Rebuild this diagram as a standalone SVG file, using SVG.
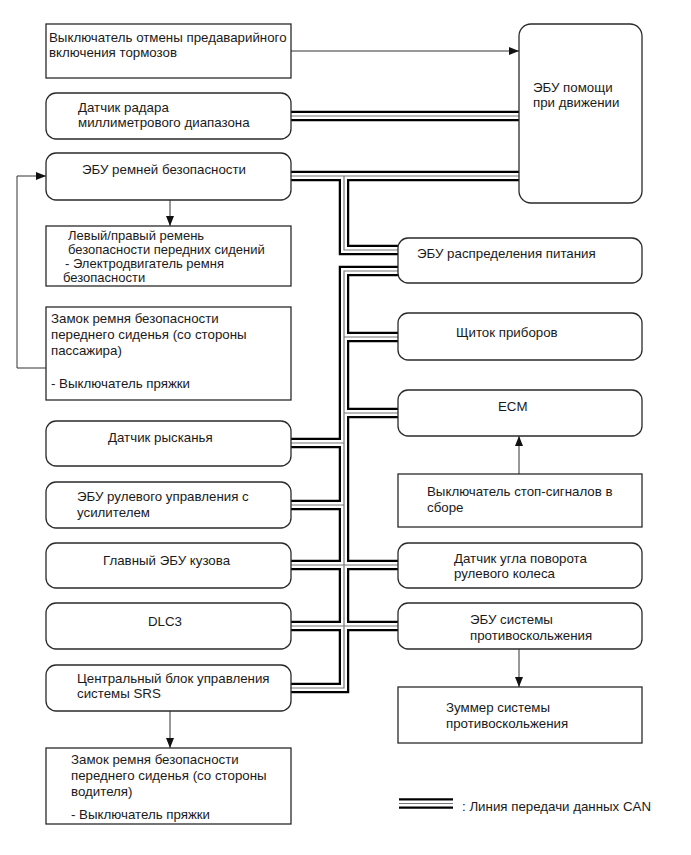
<svg xmlns="http://www.w3.org/2000/svg" xmlns:xlink="http://www.w3.org/1999/xlink" width="691" height="855" viewBox="0 0 691 855">
<style>
  .box { fill: #fff; stroke: #2a2a2a; stroke-width: 1.3; }
  text { font-family: "Liberation Sans", Arial, sans-serif; font-size: 13.3px; fill: #1a1a1a; }
  .tight { font-size: 13px; }
  .busA { fill: none; stroke: #000; stroke-width: 10.5; stroke-linejoin: miter; }
  .busB { fill: none; stroke: #fff; stroke-width: 6; stroke-linejoin: miter; }
  .busC { fill: none; stroke: #777; stroke-width: 1.2; stroke-linejoin: miter; }
  .arrow { fill: none; stroke: #333; stroke-width: 1; marker-end: url(#ah); }
</style>
<defs>
  <marker id="ah" markerWidth="10" markerHeight="8" refX="10" refY="4" orient="auto" markerUnits="userSpaceOnUse">
    <path d="M0,0 L10,4 L0,8 Z" fill="#111"/>
  </marker>
  <path id="bus" d="M291,116 H519 M291,176 H519 M344,176 V250 H398 M398,271 H344 V688 H291 M344,337 H398 M344,413 H398 M344,443 H291 M344,505 H291 M291,565 H398 M291,626 H398"/>
  <path id="legbus" d="M399,803.5 H453"/>
</defs>
<rect width="691" height="855" fill="#fff"/>
<g id="connectors">
  <use xlink:href="#bus" class="busA"/>
  <use xlink:href="#bus" class="busB"/>
  <use xlink:href="#bus" class="busC"/>
  <path class="arrow" d="M291,51 H519"/>
  <path class="arrow" d="M170,200 V226"/>
  <path class="arrow" d="M46,368 H17 V176 H46"/>
  <path class="arrow" d="M519,474 V436"/>
  <path class="arrow" d="M519,649 V687"/>
  <path class="arrow" d="M170,711 V748"/>
</g>
<g id="n1"><rect class="box" x="46" y="24" width="245" height="54"/>
  <text x="49" y="42">Выключатель отмены предаварийного</text><text x="49" y="57">включения тормозов</text></g>
<g id="n2"><rect class="box" x="46" y="93" width="245" height="46" rx="10"/>
  <text x="78" y="112">Датчик радара</text><text x="78" y="127">миллиметрового диапазона</text></g>
<g id="n3"><rect class="box" x="46" y="153" width="245" height="47" rx="10"/>
  <text x="82" y="174">ЭБУ ремней безопасности</text></g>
<g id="n4"><rect class="box" x="46" y="226" width="245" height="60"/>
  <text class="tight" x="68" y="240">Левый/правый ремень</text><text class="tight" x="68" y="254">безопасности передних сидений</text><text class="tight" x="65" y="268">- Электродвигатель ремня</text><text class="tight" x="63" y="282">безопасности</text></g>
<g id="n5"><rect class="box" x="46" y="307" width="245" height="93"/>
  <text x="51" y="323">Замок ремня безопасности</text><text x="51" y="339">переднего сиденья (со стороны</text><text x="51" y="355">пассажира)</text><text x="51" y="388">- Выключатель пряжки</text></g>
<g id="n6"><rect class="box" x="46" y="421" width="245" height="45" rx="10"/>
  <text x="108" y="442">Датчик рысканья</text></g>
<g id="n7"><rect class="box" x="46" y="482" width="245" height="46" rx="10"/>
  <text x="77" y="501">ЭБУ рулевого управления с</text><text x="77" y="517">усилителем</text></g>
<g id="n8"><rect class="box" x="46" y="543" width="245" height="45" rx="10"/>
  <text x="103" y="565">Главный ЭБУ кузова</text></g>
<g id="n9"><rect class="box" x="46" y="603" width="245" height="46" rx="10"/>
  <text x="148" y="626">DLC3</text></g>
<g id="n10"><rect class="box" x="46" y="665" width="245" height="46" rx="10"/>
  <text x="77" y="683">Центральный блок управления</text><text x="77" y="698">системы SRS</text></g>
<g id="n11"><rect class="box" x="46" y="748" width="245" height="76"/>
  <text x="71" y="764">Замок ремня безопасности</text><text x="71" y="780">переднего сиденья (со стороны</text><text x="71" y="796">водителя)</text><text x="71" y="819">- Выключатель пряжки</text></g>
<g id="n12"><rect class="box" x="519" y="24" width="123" height="179" rx="12"/>
  <text x="533" y="92">ЭБУ помощи</text><text x="533" y="107">при движении</text></g>
<g id="n13"><rect class="box" x="398" y="238" width="244" height="45" rx="10"/>
  <text x="417" y="258">ЭБУ распределения питания</text></g>
<g id="n14"><rect class="box" x="398" y="313" width="244" height="47" rx="10"/>
  <text x="456" y="337">Щиток приборов</text></g>
<g id="n15"><rect class="box" x="398" y="390" width="244" height="46" rx="10"/>
  <text x="498" y="411">ECM</text></g>
<g id="n16"><rect class="box" x="398" y="474" width="244" height="53"/>
  <text x="427" y="496">Выключатель стоп-сигналов в</text><text x="427" y="512">сборе</text></g>
<g id="n17"><rect class="box" x="398" y="543" width="244" height="45" rx="10"/>
  <text x="454" y="563">Датчик угла поворота</text><text x="454" y="578">рулевого колеса</text></g>
<g id="n18"><rect class="box" x="398" y="603" width="244" height="46" rx="10"/>
  <text x="470" y="624">ЭБУ системы</text><text x="470" y="640">противоскольжения</text></g>
<g id="n19"><rect class="box" x="398" y="687" width="244" height="56"/>
  <text x="446" y="712">Зуммер системы</text><text x="446" y="728">противоскольжения</text></g>
<g id="legend">
  <use xlink:href="#legbus" class="busA"/>
  <use xlink:href="#legbus" class="busB"/>
  <use xlink:href="#legbus" class="busC"/>
  <text x="462" y="811">: Линия передачи данных CAN</text>
</g>
</svg>
